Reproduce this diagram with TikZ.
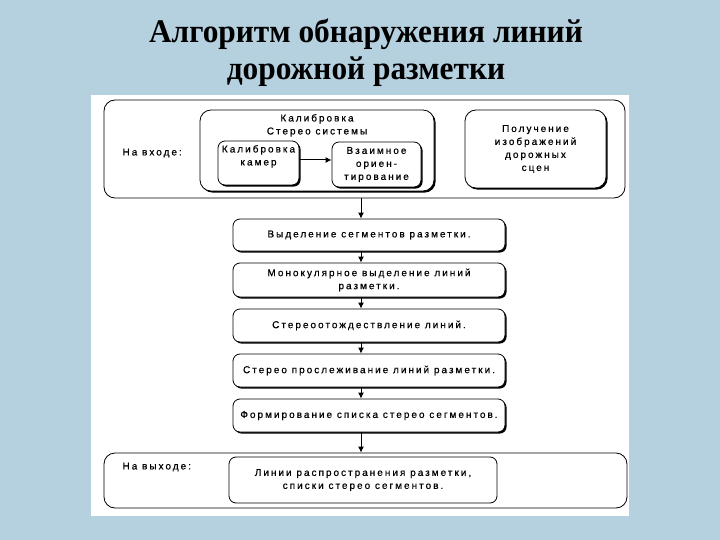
\documentclass[tikz,border=0pt]{standalone}
\usepackage{fontspec}
\setmainfont{Liberation Sans}
\newfontfamily\titlefont[FakeStretch=0.95]{Liberation Serif}
\newfontfamily\boxfont[LetterSpace=20,FakeBold=0.6]{Liberation Sans}
\usetikzlibrary{positioning,shadows,arrows.meta}
\definecolor{slide}{RGB}{181,208,222}

\tikzset{
  boxtext/.style={font=\boxfont\fontsize{10}{13}\selectfont,align=center},
  frame/.style={draw,line width=0.8pt,rounded corners=11pt,fill=white},
  stage/.style={draw,line width=0.8pt,rounded corners=7pt,fill=white,boxtext,inner sep=2pt,
    drop shadow={shadow xshift=1.6pt,shadow yshift=-1.6pt,fill=black,opacity=1}},
  flat/.style={draw,line width=0.8pt,rounded corners=7pt,fill=white,boxtext,inner sep=2pt}
}

\begin{document}
\begin{tikzpicture}[x=1pt,y=-1pt]
  \fill[slide] (0,0) rectangle (720,540);
  \useasboundingbox (0,0) rectangle (720,540);
  \fill[white] (91,95) rectangle (629,516);

  \node[font=\titlefont\bfseries\fontsize{33}{37}\selectfont,align=center] (title) at (366,53)
    {Алгоритм обнаружения линий\\дорожной разметки};

  % input block
  \node[frame,minimum width=521pt,minimum height=98pt] (inbox) at (364.5,149) {};
  \node[boxtext,anchor=west] (inlabel) at (119,153) {На входе:};
  \node[stage,rounded corners=11pt,minimum width=234pt,minimum height=81pt,
    label={[boxtext,anchor=north,yshift=-1pt]north:{Калибровка\\Стерео системы}}] (calib) at (317,150.5) {};
  \node[stage,minimum width=81pt,minimum height=44pt,
    label={[boxtext,anchor=north,yshift=-1pt]north:{Калибровка\\камер}}] (cam) at (258.5,163) {};
  \node[stage,minimum width=89pt,minimum height=45pt] (orient) at (376.5,164.5) {Взаимное\\ориен-\\тирование};
  \node[stage,rounded corners=11pt,minimum width=141pt,minimum height=78pt] (images) at (535.5,149)
    {Получение\\изображений\\дорожных\\сцен};

  % processing steps
  \node[stage,minimum width=272pt,minimum height=32pt] (s1) at (369,235) {Выделение сегментов разметки.};
  \node[stage,minimum width=272pt,minimum height=34pt] (s2) at (369,280) {Монокулярное выделение линий\\разметки.};
  \node[stage,minimum width=272pt,minimum height=33pt] (s3) at (369,325.5) {Стереоотождествление линий.};
  \node[stage,minimum width=272pt,minimum height=33pt] (s4) at (369,370.5) {Стерео прослеживание линий разметки.};
  \node[stage,minimum width=272pt,minimum height=33pt] (s5) at (369,415.5) {Формирование списка стерео сегментов.};

  % output block
  \node[frame,minimum width=523pt,minimum height=55pt] (outbox) at (365.5,480.5) {};
  \node[boxtext,anchor=west] (outlabel) at (119,467) {На выходе:};
  \node[flat,minimum width=268pt,minimum height=46pt] (result) at (363,480)
    {Линии распространения разметки,\\списки стерео сегментов.};

  \coordinate (axis) at (361,0);
  \path[-{Latex[length=6pt,width=6pt]},line width=1pt]
    ([yshift=3pt]cam.east) edge ([yshift=3pt]cam.east -| orient.west)
    (inbox.south -| axis) edge (s1.north -| axis)
    (s1.south -| axis) edge (s2.north -| axis)
    (s2.south -| axis) edge (s3.north -| axis)
    (s3.south -| axis) edge (s4.north -| axis)
    (s4.south -| axis) edge (s5.north -| axis)
    (s5.south -| axis) edge (outbox.north -| axis);
\end{tikzpicture}
\end{document}
